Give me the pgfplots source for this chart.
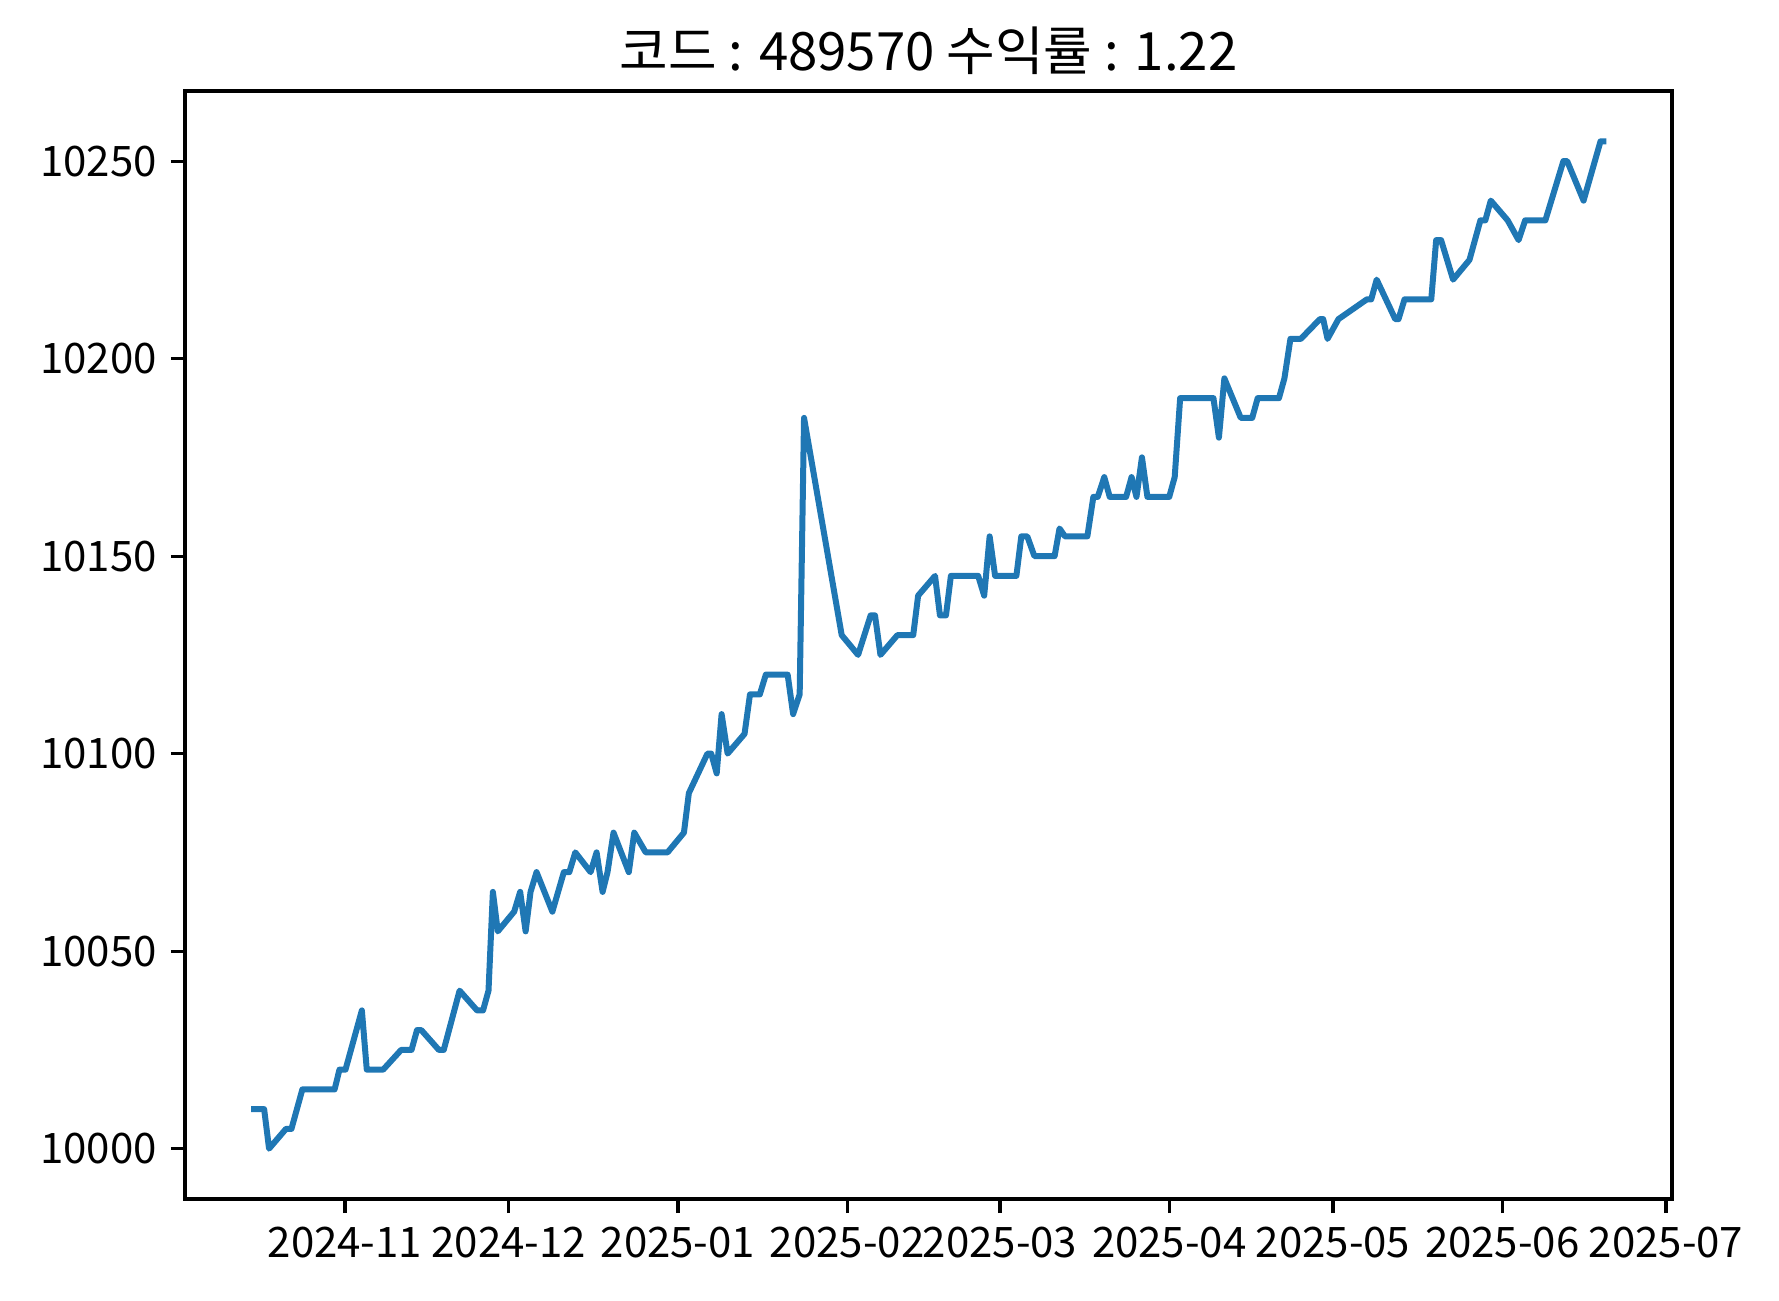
\documentclass[border=0pt]{standalone}
\usepackage{pgfplots}
\pgfplotsset{compat=1.18}
\usepackage{fontspec}
\setmainfont{Noto Sans CJK KR}
\definecolor{mplblue}{HTML}{1F77B4}
\begin{document}
\begin{tikzpicture}
\begin{axis}[
  at={(0,0)}, anchor=south west,
  scale only axis, width=371.75pt, height=277pt,
  xmin=-29.3, xmax=243.1, ymin=9987.25, ymax=10267.75,
  xtick={0,30,61,92,120,151,181,212,242},
  xticklabels={2024-11,2024-12,2025-01,2025-02,2025-03,2025-04,2025-05,2025-06,2025-07},
  ytick={10000,10050,10100,10150,10200,10250},
  yticklabels={10000,10050,10100,10150,10200,10250},
  scaled y ticks=false,
  ticklabel style={font=\fontsize{10.5}{12}\selectfont},
  tick align=outside, major tick length=3.5pt,
  xtick pos=bottom, ytick pos=left,
  axis line style={line width=0.8pt},
  every tick/.style={black, line width=0.8pt},
  title={코드 : 489570 수익률 : 1.22},
  title style={font=\fontsize{13.2}{15}\selectfont, at={(0.5,1)}, anchor=base, yshift=-0.8pt, inner sep=0pt},
]
\addplot[color=mplblue, line width=1.5pt, line join=round] coordinates {
(-17.2,10010) (-14.8,10010) (-13.9,10000) (-10.8,10005) (-9.8,10005) (-7.8,10015)
(-1.9,10015) (-1.0,10020) (0.1,10020) (3.1,10035) (4.0,10020) (7.0,10020)
(10.3,10025) (12.2,10025) (13.2,10030) (14.0,10030) (17.2,10025) (18.1,10025)
(21.0,10040) (24.2,10035) (25.3,10035) (26.3,10040) (27.1,10065) (28.0,10055)
(31.0,10060) (32.1,10065) (33.1,10055) (34.0,10065) (35.1,10070) (38.0,10060)
(40.1,10070) (41.1,10070) (42.2,10075) (45.0,10070) (46.1,10075) (47.2,10065)
(48.1,10070) (49.2,10080) (52.0,10070) (53.0,10080) (55.1,10075) (59.1,10075)
(62.1,10080) (63.0,10090) (66.4,10100) (67.1,10100) (68.1,10095) (69.0,10110)
(70.1,10100) (73.2,10105) (74.2,10115) (76.0,10115) (77.1,10120) (81.1,10120)
(82.1,10110) (83.3,10115) (84.1,10185) (91.0,10130) (94.0,10125) (96.3,10135)
(97.1,10135) (98.1,10125) (101.2,10130) (104.1,10130) (105.0,10140) (108.1,10145)
(109.0,10135) (110.1,10135) (111.0,10145) (116.0,10145) (117.1,10140) (118.1,10155)
(119.1,10145) (123.0,10145) (123.9,10155) (125.0,10155) (126.3,10150) (130.0,10150)
(130.9,10157) (131.9,10155) (136.0,10155) (137.1,10165) (137.9,10165) (139.1,10170)
(140.1,10165) (143.1,10165) (144.1,10170) (145.0,10165) (146.0,10175) (147.0,10165)
(151.0,10165) (152.0,10170) (153.0,10190) (159.1,10190) (160.1,10180) (161.1,10195)
(164.1,10185) (166.2,10185) (167.2,10190) (171.1,10190) (172.1,10195) (173.2,10205)
(175.1,10205) (178.6,10210) (179.2,10210) (180.0,10205) (182.0,10210) (187.2,10215)
(188.0,10215) (189.0,10220) (192.4,10210) (193.0,10210) (194.1,10215) (199.0,10215)
(199.9,10230) (200.8,10230) (203.0,10220) (206.0,10225) (208.0,10235) (208.9,10235)
(209.9,10240) (213.0,10235) (215.0,10230) (216.2,10235) (219.9,10235) (223.2,10250)
(223.9,10250) (226.9,10240) (230.0,10255) (231.1,10255)
};
\end{axis}
\pgfresetboundingbox
\path[use as bounding box] (-46.25pt,-25.25pt) rectangle (398.5pt,299.75pt);
\end{tikzpicture}
\end{document}
